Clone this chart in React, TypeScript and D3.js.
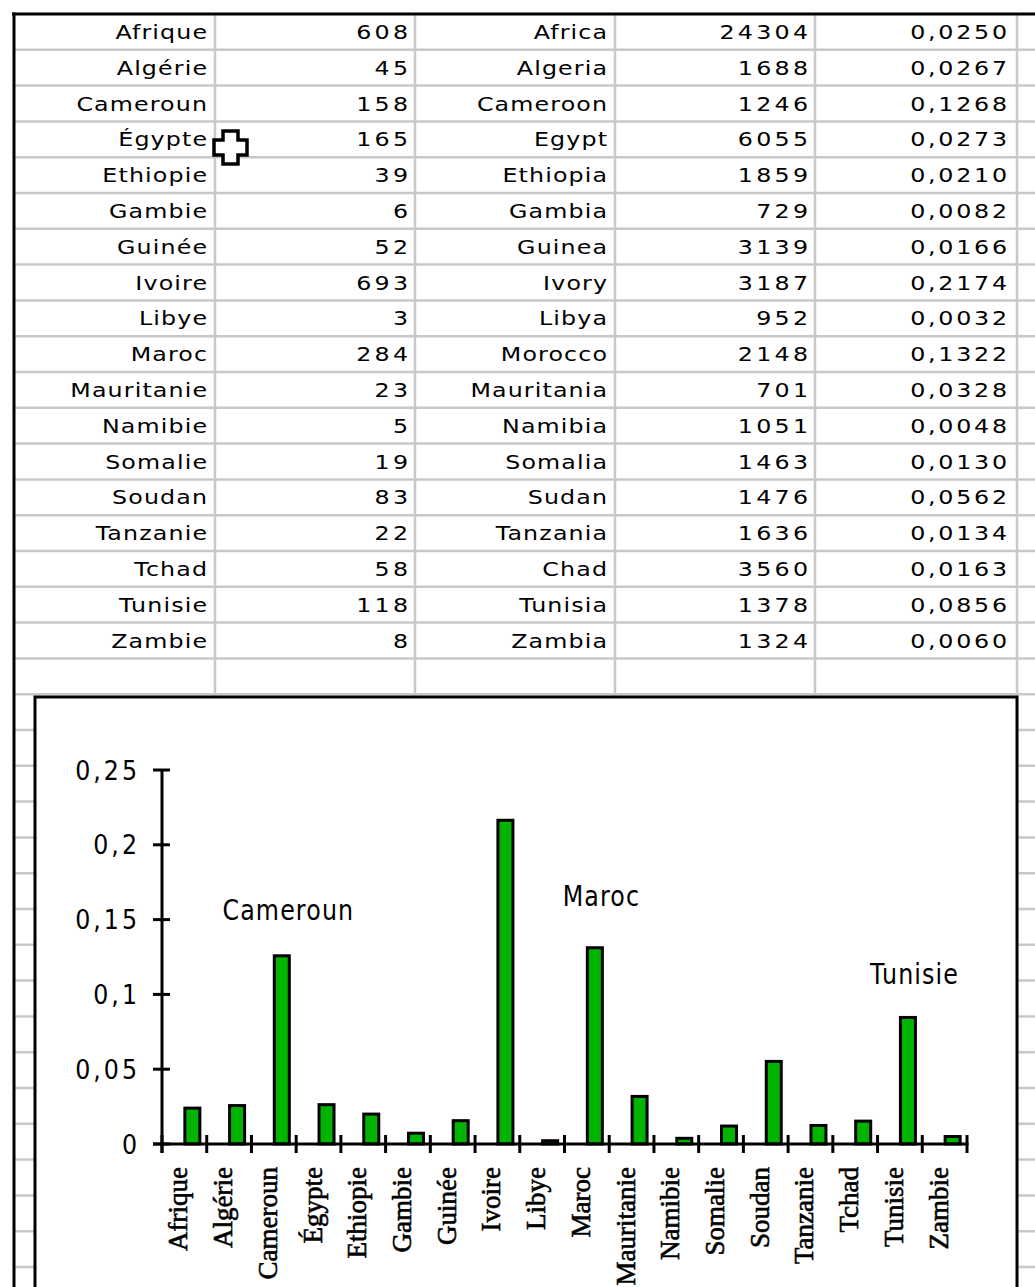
import * as d3 from "d3";

const categories = [
  "Afrique", "Algérie", "Cameroun", "Égypte", "Ethiopie", "Gambie", "Guinée", "Ivoire", "Libye",
  "Maroc", "Mauritanie", "Namibie", "Somalie", "Soudan", "Tanzanie", "Tchad", "Tunisie", "Zambie",
];
const counts = [608, 45, 158, 165, 39, 6, 52, 693, 3, 284, 23, 5, 19, 83, 22, 58, 118, 8];
const namesEn = [
  "Africa", "Algeria", "Cameroon", "Egypt", "Ethiopia", "Gambia", "Guinea", "Ivory", "Libya",
  "Morocco", "Mauritania", "Namibia", "Somalia", "Sudan", "Tanzania", "Chad", "Tunisia", "Zambia",
];
const totals = [24304, 1688, 1246, 6055, 1859, 729, 3139, 3187, 952, 2148, 701, 1051, 1463, 1476, 1636, 3560, 1378, 1324];
const ratios = [
  0.025, 0.0267, 0.1268, 0.0273, 0.021, 0.0082, 0.0166, 0.2174, 0.0032,
  0.1322, 0.0328, 0.0048, 0.013, 0.0562, 0.0134, 0.0163, 0.0856, 0.006,
];
const yTicks = [0, 0.05, 0.1, 0.15, 0.2, 0.25];
const notes = ["Cameroun", "Maroc", "Tunisie"];
const noteLevels = [0.15, 0.159, 0.107];

const W = 1035;
const H = 1287;
const top = 14;
const rowH = 35.8;
const colEdges = [15, 215, 415, 615, 815, 1017];
const grid = "#c8c8c8";
const green = "#00b400";

const fr = d3.formatLocale({ decimal: ",", thousands: "\u00a0", grouping: [3], currency: ["", " €"] });
const fmtRatio = fr.format(".4f");
const fmtTick = fr.format(".2~f");

const sans = "'DejaVu Sans', Geneva, sans-serif";
const serif = "'Liberation Serif', 'DejaVu Serif', serif";
const sx = 1.25;

function Label({
  tx, ty, text, ls, sy = 1, anchor = "end",
}: { tx: number; ty: number; text: string; ls: number; sy?: number; anchor?: string }) {
  // anchor "end": tx is the visible right edge
  const shift = anchor === "end" ? ls * sx : (ls * sx) / 2;
  return (
    <text
      transform={`translate(${tx + shift},${ty}) scale(${sx},${sy})`}
      textAnchor={anchor}
      fontFamily={sans}
      fontSize={19}
      letterSpacing={ls}
      fill="#000"
    >
      {text}
    </text>
  );
}

export default function App() {
  const nRowsGrid = Math.ceil((H - top) / rowH);

  const chart = { left: 35, top: 697, right: 1017 };
  const x = d3.scaleBand<string>().domain(categories).range([162, 967]).padding(0);
  const y = d3.scaleLinear().domain([0, 0.25]).range([1144, 770]);
  const bw = x.bandwidth();
  const barShift = 8;
  const barW = 15;
  const cx = (c: string) => (x(c) ?? 0) + bw / 2 + barShift;
  const tickXs = [...categories.map((c) => x(c) ?? 0), x.range()[1]];
  const rowBase = (i: number) => top + i * rowH + 25;

  return (
    <svg
      width={W}
      height={H}
      viewBox={`0 0 ${W} ${H}`}
      style={{ position: "absolute", left: 0, top: 0, background: "#fff" }}
    >
      <rect x={0} y={0} width={W} height={H} fill="#fff" />

      {/* spreadsheet grid */}
      {d3.range(1, nRowsGrid + 1).map((k) => (
        <line key={`h${k}`} x1={15} x2={W} y1={top + k * rowH} y2={top + k * rowH} stroke={grid} strokeWidth={2.5} />
      ))}
      {colEdges.slice(1).map((cxp) => (
        <line key={`v${cxp}`} x1={cxp} x2={cxp} y1={top} y2={H} stroke={grid} strokeWidth={2.5} />
      ))}
      <line x1={12} x2={W} y1={top} y2={top} stroke="#000" strokeWidth={3} />
      <line x1={14} x2={14} y1={12.5} y2={H} stroke="#000" strokeWidth={3} />

      {categories.map((c, i) => (
        <g key={c}>
          <Label tx={colEdges[1] - 8} ty={rowBase(i)} text={c} ls={0.9} />
          <Label tx={colEdges[2] - 7} ty={rowBase(i)} text={String(counts[i])} ls={2.6} />
          <Label tx={colEdges[3] - 8} ty={rowBase(i)} text={namesEn[i]} ls={0.9} />
          <Label tx={colEdges[4] - 7} ty={rowBase(i)} text={String(totals[i])} ls={2.6} />
          <Label tx={colEdges[5] - 10} ty={rowBase(i)} text={fmtRatio(ratios[i])} ls={2.2} />
        </g>
      ))}

      {/* cell cursor */}
      <path
        d="M223,131 H238 V140 H247 V155 H238 V164 H223 V155 H214 V140 H223 Z"
        fill="#fff"
        stroke="#000"
        strokeWidth={3.5}
        strokeLinejoin="miter"
      />

      {/* embedded chart */}
      <rect
        x={chart.left}
        y={chart.top}
        width={chart.right - chart.left}
        height={H - chart.top + 20}
        fill="#fff"
        stroke="#000"
        strokeWidth={3}
      />

      {categories.map((c, i) => (
        <rect
          key={`b${c}`}
          x={cx(c) - barW / 2}
          y={y(ratios[i]) + 1.5}
          width={barW}
          height={Math.max(0, y(0) - y(ratios[i]) - 1.5)}
          fill={green}
          stroke="#000"
          strokeWidth={3}
        />
      ))}

      {/* axes */}
      <line x1={162} x2={162} y1={y(0.25)} y2={1153} stroke="#000" strokeWidth={3} />
      <line x1={153} x2={x.range()[1] + 1.5} y1={y(0)} y2={y(0)} stroke="#000" strokeWidth={3} />
      {yTicks.map((t) => (
        <g key={`yt${t}`}>
          <line x1={153} x2={170} y1={y(t)} y2={y(t)} stroke="#000" strokeWidth={3} />
          <Label tx={137} ty={y(t) + 9.5} text={fmtTick(t)} ls={2.4} sy={1.4} />
        </g>
      ))}
      {tickXs.map((tx, i) => (
        <line key={`xt${i}`} x1={tx} x2={tx} y1={1135} y2={1153} stroke="#000" strokeWidth={3} />
      ))}
      {categories.map((c) => (
        <text
          key={`xl${c}`}
          transform={`translate(${(x(c) ?? 0) + bw / 2 + 3},1167) rotate(-90)`}
          textAnchor="end"
          fontFamily={serif}
          fontSize={27}
          fill="#000"
          stroke="#000"
          strokeWidth={0.6}
        >
          {c}
        </text>
      ))}

      {notes.map((n, i) => (
        <Label key={`n${n}`} tx={cx(n) + 6} ty={y(noteLevels[i])} text={n} ls={0.9} sy={1.45} anchor="middle" />
      ))}
    </svg>
  );
}
